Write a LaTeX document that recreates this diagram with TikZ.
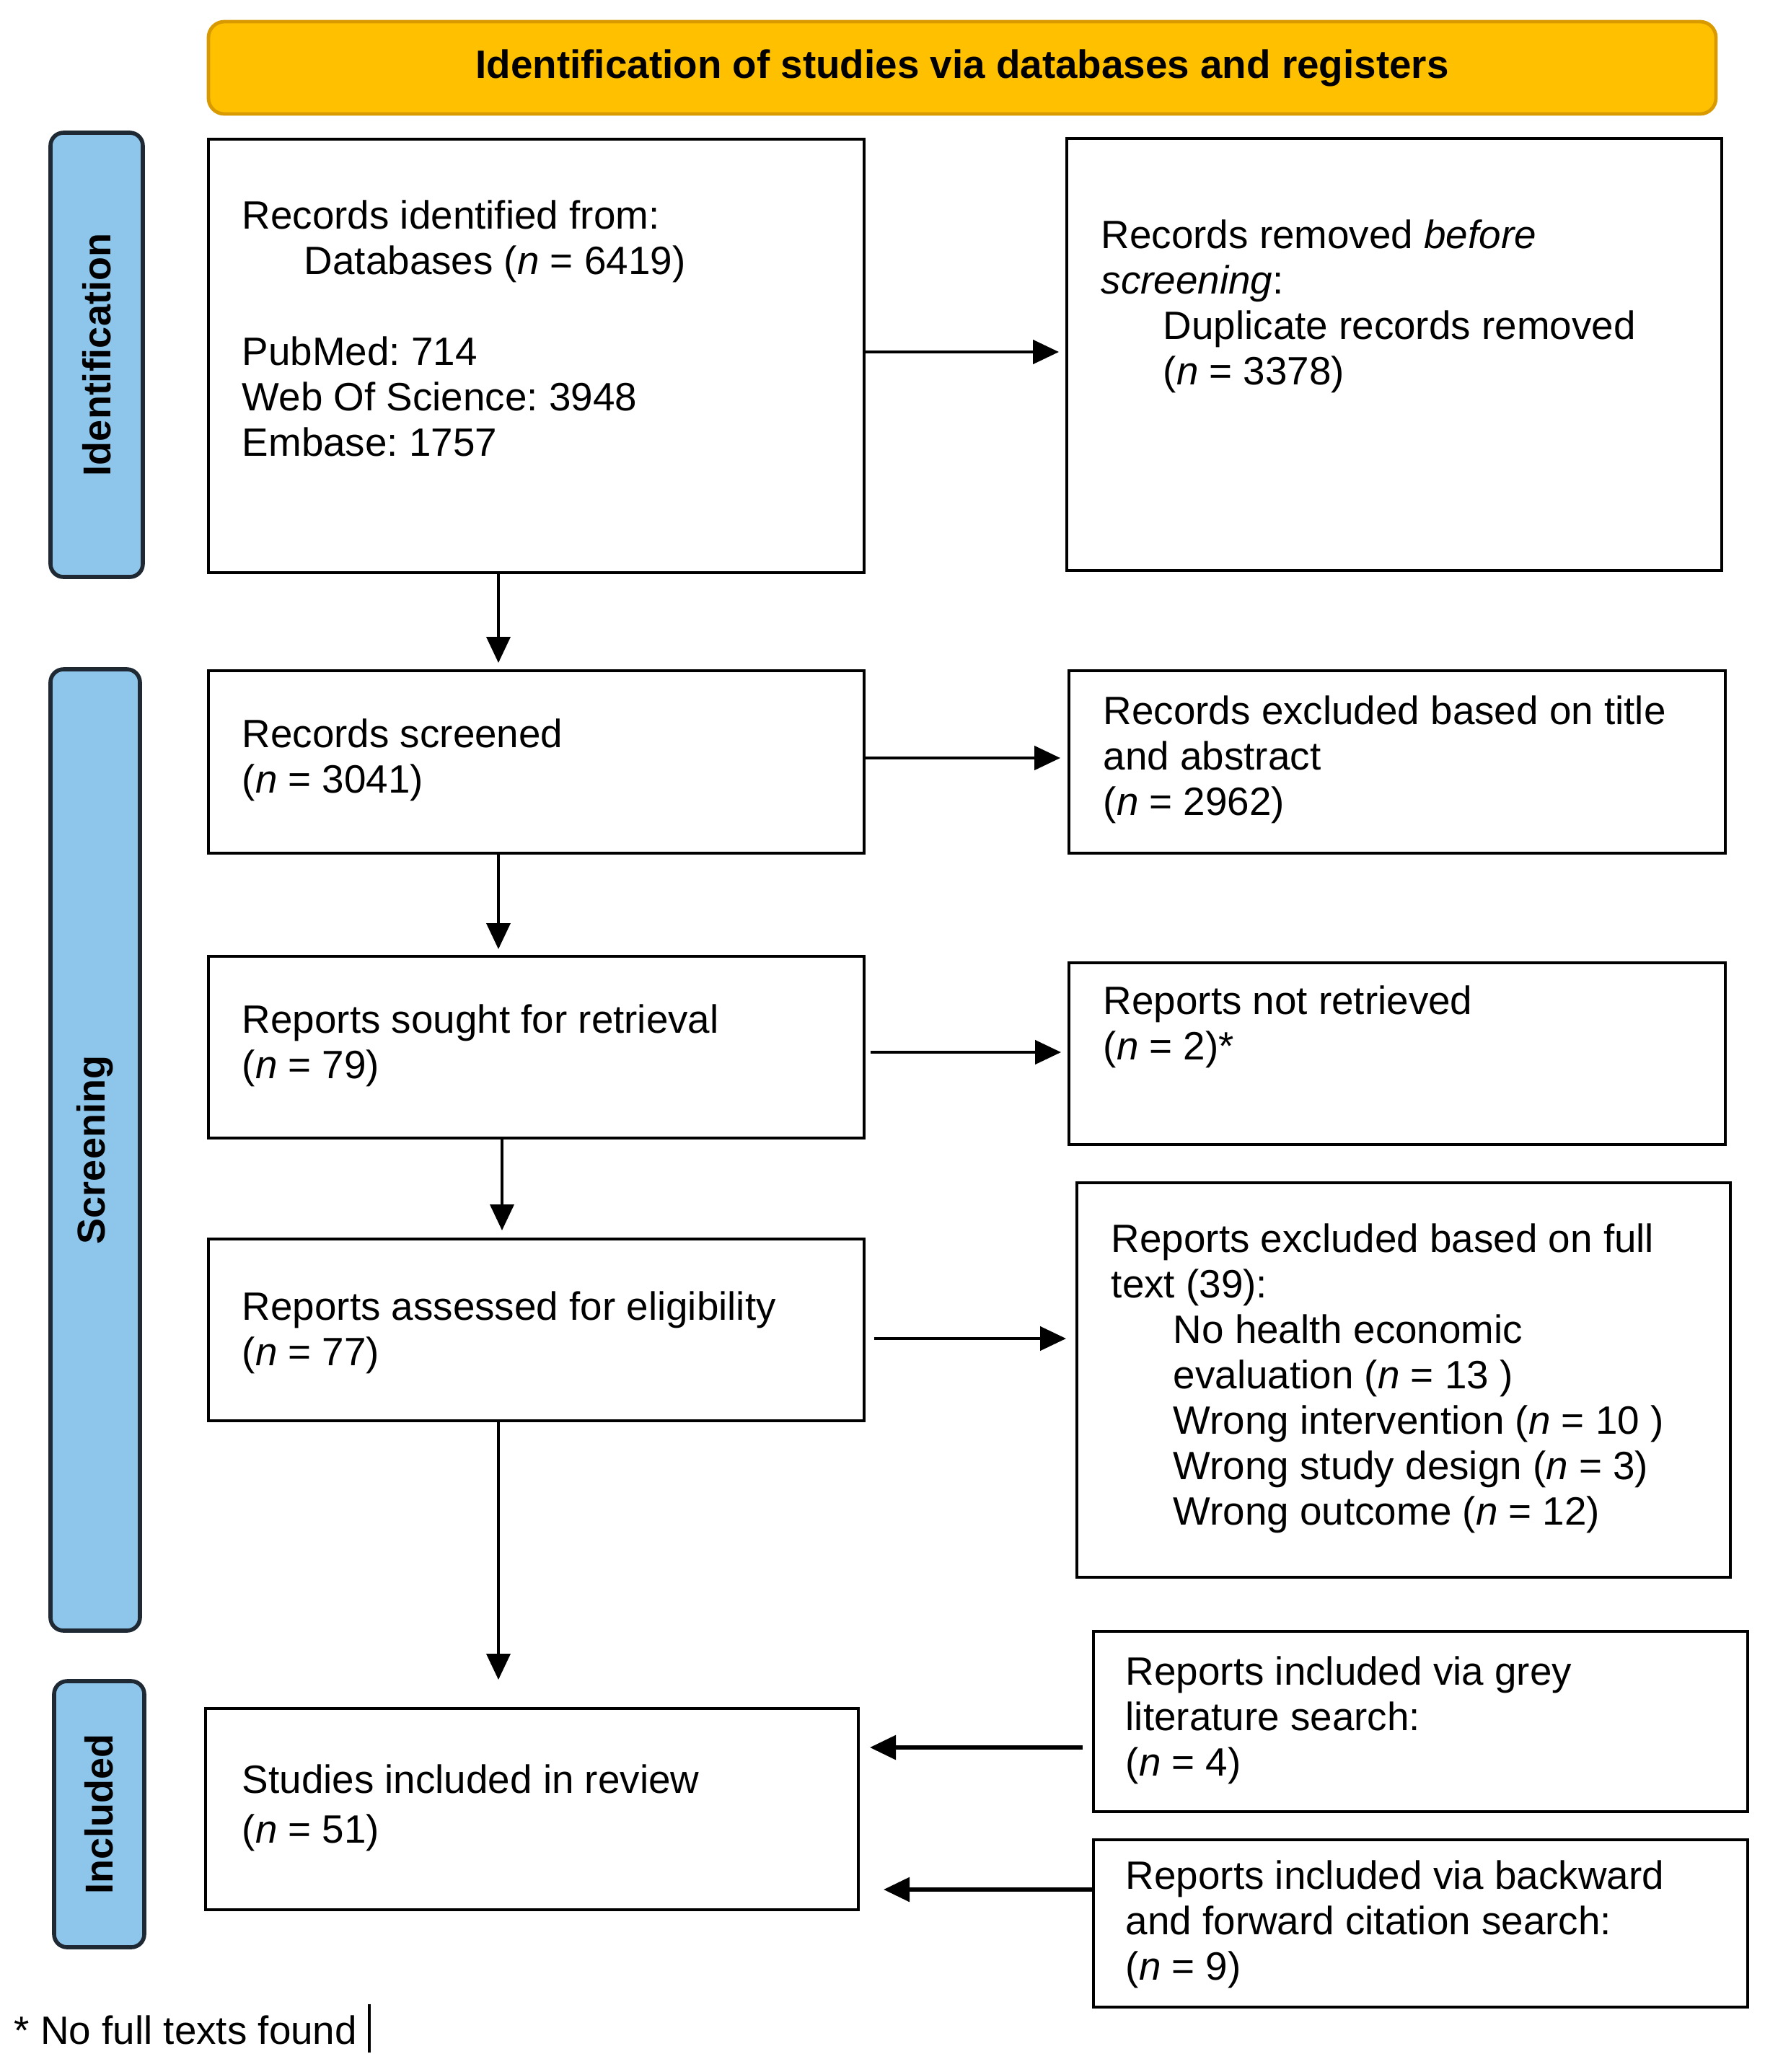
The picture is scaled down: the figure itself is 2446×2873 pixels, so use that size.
\documentclass[tikz,border=0pt]{standalone}
\usepackage{fontspec}
\setmainfont{Liberation Sans}
\usetikzlibrary{arrows.meta}
\definecolor{bannerfill}{HTML}{FFC000}
\definecolor{bannerline}{HTML}{D99A00}
\definecolor{phasefill}{HTML}{8EC5EA}
\definecolor{phaseline}{HTML}{1E2933}
\newcommand{\ind}{\hspace*{21.5pt}}
\frenchspacing
\begin{document}
\begin{tikzpicture}[x=0.25pt,y=-0.25pt,
  box/.style={draw=black, line width=1pt, fill=white, inner sep=0pt},
  txt/.style={anchor=north west, inner sep=0pt, align=left,
    font=\fontsize{13.7}{15.75}\selectfont, execute at begin node=\strut},
  banner/.style={draw=bannerline, fill=bannerfill, line width=1.2pt, rounded corners=5.5pt, inner sep=0pt,
    font=\fontsize{13.7}{16}\selectfont\bfseries},
  phase/.style={draw=phaseline, fill=phasefill, line width=1.4pt, rounded corners=4.5pt, inner sep=0pt},
  phasetxt/.style={rotate=90, inner sep=0pt, font=\fontsize{13.5}{16}\selectfont\bfseries},
  harrow/.style={-{Triangle[length=9pt,width=8.3pt]}, line width=1pt},
  varrow/.style={-{Triangle[length=9pt,width=8.3pt]}, line width=0.8pt},
]
\useasboundingbox (0,0) rectangle (2446,2873);
\fill[white] (0,0) rectangle (2446,2873);

% banner
\node[banner, minimum width=522.5pt, minimum height=32pt] (banner) at (1334,94)
  {Identification of studies via databases and registers};

% phase labels
\node[phase, minimum width=32pt, minimum height=154pt] (idphase) at (134,492) {};
\node[phasetxt] (idphasetxt) at (idphase.center) {Identification};
\node[phase, minimum width=31pt, minimum height=333.25pt] (scrphase) at (132,1594.5) {};
\node[phasetxt] (scrphasetxt) at (scrphase.center) {Screening};
\node[phase, minimum width=31.25pt, minimum height=92.25pt] (incphase) at (137.5,2515.5) {};
\node[phasetxt] (incphasetxt) at (incphase.center) {Included};

% boxes
\node[box, minimum width=227.25pt, minimum height=150.25pt] (idbox) at (743,493.5) {};
\node[box, minimum width=227pt, minimum height=149.75pt] (rembox) at (1933,491.5) {};
\node[box, minimum width=227.25pt, minimum height=63.25pt] (scrbox) at (743,1056.5) {};
\node[box, minimum width=227.5pt, minimum height=63.25pt] (exclbox) at (1937,1056.5) {};
\node[box, minimum width=227.25pt, minimum height=63pt] (soughtbox) at (743,1452) {};
\node[box, minimum width=227.5pt, minimum height=63pt] (notretbox) at (1937,1461) {};
\node[box, minimum width=227.25pt, minimum height=63pt] (assbox) at (743,1844) {};
\node[box, minimum width=226.5pt, minimum height=136.75pt] (fullbox) at (1946,1913.5) {};
\node[box, minimum width=226.25pt, minimum height=69.75pt] (studbox) at (737.5,2508.5) {};
\node[box, minimum width=226.75pt, minimum height=62.5pt] (greybox) at (1969,2387) {};
\node[box, minimum width=226.75pt, minimum height=58pt] (backbox) at (1969,2667) {};

% texts
\node[txt] (idtext) at (335,277) {Records identified from:\\
  \ind Databases (\textit{n} = 6419)\\[15.75pt]
  PubMed: 714\\
  Web Of Science: 3948\\
  Embase: 1757};
\node[txt] (remtext) at (1526,304) {Records removed \textit{before}\\
  \textit{screening}:\\
  \ind Duplicate records removed\\
  \ind (\textit{n} = 3378)};
\node[txt] (scrtext) at (335,996) {Records screened\\ (\textit{n} = 3041)};
\node[txt] (excltext) at (1529,964) {Records excluded based on title\\ and abstract\\ (\textit{n} = 2962)};
\node[txt] (soughttext) at (335,1392) {Reports sought for retrieval\\ (\textit{n} = 79)};
\node[txt] (notrettext) at (1529,1366) {Reports not retrieved\\ (\textit{n} = 2)*};
\node[txt] (asstext) at (335,1790) {Reports assessed for eligibility\\ (\textit{n} = 77)};
\node[txt] (fulltext) at (1540,1696) {Reports excluded based on full\\
  text (39):\\
  \ind No health economic\\
  \ind evaluation (\textit{n} = 13 )\\
  \ind Wrong intervention (\textit{n} = 10 )\\
  \ind Wrong study design (\textit{n} = 3)\\
  \ind Wrong outcome (\textit{n} = 12)};
\node[txt] (studtext) at (335,2446) {Studies included in review\\[1.5pt] (\textit{n} = 51)};
\node[txt] (greytext) at (1560,2296) {Reports included via grey\\ literature search:\\ (\textit{n} = 4)};
\node[txt] (backtext) at (1560,2579) {Reports included via backward\\ and forward citation search:\\ (\textit{n} = 9)};
\node[txt] (foottext) at (19,2790) {* No full texts found};
\draw[line width=1pt] (512,2779) -- (512,2846);

% horizontal arrows
\draw[harrow, shorten >=2.25pt] (idbox.east |- 0,488) -- (rembox.west |- 0,488);
\draw[harrow, shorten >=2.5pt] (scrbox.east |- 0,1051) -- (exclbox.west |- 0,1051);
\draw[harrow, shorten <=1.75pt, shorten >=2.25pt] (soughtbox.east |- 0,1459) -- (notretbox.west |- 0,1459);
\draw[harrow, shorten <=3pt, shorten >=3.25pt] (assbox.east |- 0,1856) -- (fullbox.west |- 0,1856);
\draw[harrow, line width=1.3pt, shorten <=3.25pt, shorten >=3.5pt] (greybox.west |- 0,2423) -- (studbox.east |- 0,2423);
\draw[harrow, line width=1.3pt, shorten >=8.25pt] (backbox.west |- 0,2620) -- (studbox.east |- 0,2620);

% vertical arrows
\draw[varrow, shorten >=2.25pt] (idbox.south -| 691,0) -- (scrbox.north -| 691,0);
\draw[varrow, shorten >=2pt] (scrbox.south -| 691,0) -- (soughtbox.north -| 691,0);
\draw[varrow, shorten >=2.5pt] (soughtbox.south -| 696,0) -- (assbox.north -| 696,0);
\draw[varrow, shorten >=9.5pt] (assbox.south -| 691,0) -- (studbox.north -| 691,0);
\end{tikzpicture}
\end{document}
